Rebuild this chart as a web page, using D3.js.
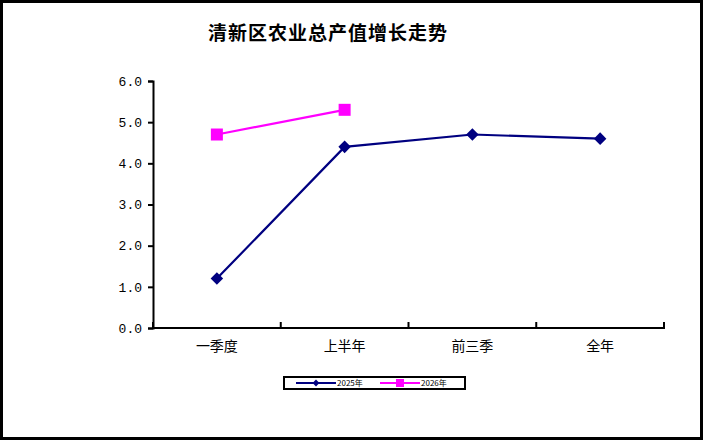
<!DOCTYPE html>
<html><head><meta charset="utf-8">
<script src="https://cdn.jsdelivr.net/npm/d3@7"></script>
<style>body{margin:0;background:#fff}svg{display:block}</style>
</head><body>
<svg id="c" width="705" height="441"></svg>
<script>
const title = "清新区农业总产值增长走势";
const categories = ["一季度", "上半年", "前三季", "全年"];
const seriesNames = ["2025年", "2026年"];
const values2025 = [1.2, 4.4, 4.7, 4.6];
const values2026 = [4.7, 5.3];
const yTicks = [0, 1, 2, 3, 4, 5, 6];

const svg = d3.select("#c");
const font = "'Noto Sans CJK SC', sans-serif";
svg.append("rect").attr("x", 1.5).attr("y", 1.5).attr("width", 700).attr("height", 437)
  .attr("fill", "#fff").attr("stroke", "#000").attr("stroke-width", 3);

svg.append("text").attr("x", 328).attr("y", 40).attr("text-anchor", "middle")
  .attr("font-family", font).attr("font-weight", "bold").attr("font-size", 19)
  .attr("letter-spacing", 1).text(title);

const x = d3.scaleBand().domain(categories).range([153, 664]);
const y = d3.scaleLinear().domain([0, 6]).range([328, 81]);

const gx = svg.append("g").attr("transform", "translate(0,328)")
  .call(d3.axisBottom(x).tickSize(0).tickPadding(13));
gx.select(".domain").remove();
gx.selectAll("text").attr("font-family", font).attr("font-size", 14).attr("fill", "#000");
svg.append("line").attr("x1", 152).attr("x2", 665).attr("y1", 328).attr("y2", 328)
  .attr("stroke", "#000").attr("stroke-width", 2);
const bounds = categories.map(c => x(c)).concat([x.range()[1]]);
svg.selectAll(".xt").data(bounds).enter().append("line")
  .attr("x1", d => d).attr("x2", d => d).attr("y1", 328).attr("y2", 322)
  .attr("stroke", "#000").attr("stroke-width", 2);

const gy = svg.append("g").attr("transform", "translate(153,0)")
  .call(d3.axisLeft(y).tickValues(yTicks).tickFormat(d3.format(".1f")).tickSize(5).tickPadding(6));
gy.select(".domain").attr("stroke-width", 2);
gy.selectAll(".tick line").attr("stroke-width", 2);
gy.selectAll("text").attr("font-family", "'Liberation Mono', monospace").attr("font-size", 13).attr("fill", "#000");

const cx = c => x(c) + x.bandwidth() / 2;
const line = d3.line().x((d, i) => cx(categories[i])).y(d => y(d));

svg.append("path").datum(values2025).attr("d", line).attr("fill", "none")
  .attr("stroke", "#000080").attr("stroke-width", 2.2);
svg.selectAll(".m1").data(values2025).enter().append("path")
  .attr("transform", (d, i) => `translate(${cx(categories[i])},${y(d)})`)
  .attr("d", d3.symbol(d3.symbolDiamond2, 100)).attr("fill", "#000080");

svg.append("path").datum(values2026).attr("d", line).attr("fill", "none")
  .attr("stroke", "#ff00ff").attr("stroke-width", 2.2);
svg.selectAll(".m2").data(values2026).enter().append("rect")
  .attr("x", (d, i) => cx(categories[i]) - 6).attr("y", d => y(d) - 6)
  .attr("width", 12).attr("height", 12).attr("fill", "#ff00ff");

// legend
const lg = svg.append("g");
lg.append("rect").attr("x", 284).attr("y", 377).attr("width", 181).attr("height", 12)
  .attr("fill", "#fff").attr("stroke", "#000").attr("stroke-width", 2);
const items = [{name: seriesNames[0], color: "#000080", x0: 296}, {name: seriesNames[1], color: "#ff00ff", x0: 380}];
items.forEach((it, k) => {
  lg.append("line").attr("x1", it.x0).attr("x2", it.x0 + 40).attr("y1", 383).attr("y2", 383)
    .attr("stroke", it.color).attr("stroke-width", 2);
  if (k === 0) {
    lg.append("path").attr("transform", `translate(${it.x0 + 20},383)`)
      .attr("d", d3.symbol(d3.symbolDiamond2, 30)).attr("fill", it.color);
  } else {
    lg.append("rect").attr("x", it.x0 + 16).attr("y", 379).attr("width", 8).attr("height", 8).attr("fill", it.color);
  }
  lg.append("text").attr("x", it.x0 + 41).attr("y", 386).attr("font-family", font)
    .attr("font-size", 8).attr("fill", "#000").text(it.name);
});
</script>
</body></html>
